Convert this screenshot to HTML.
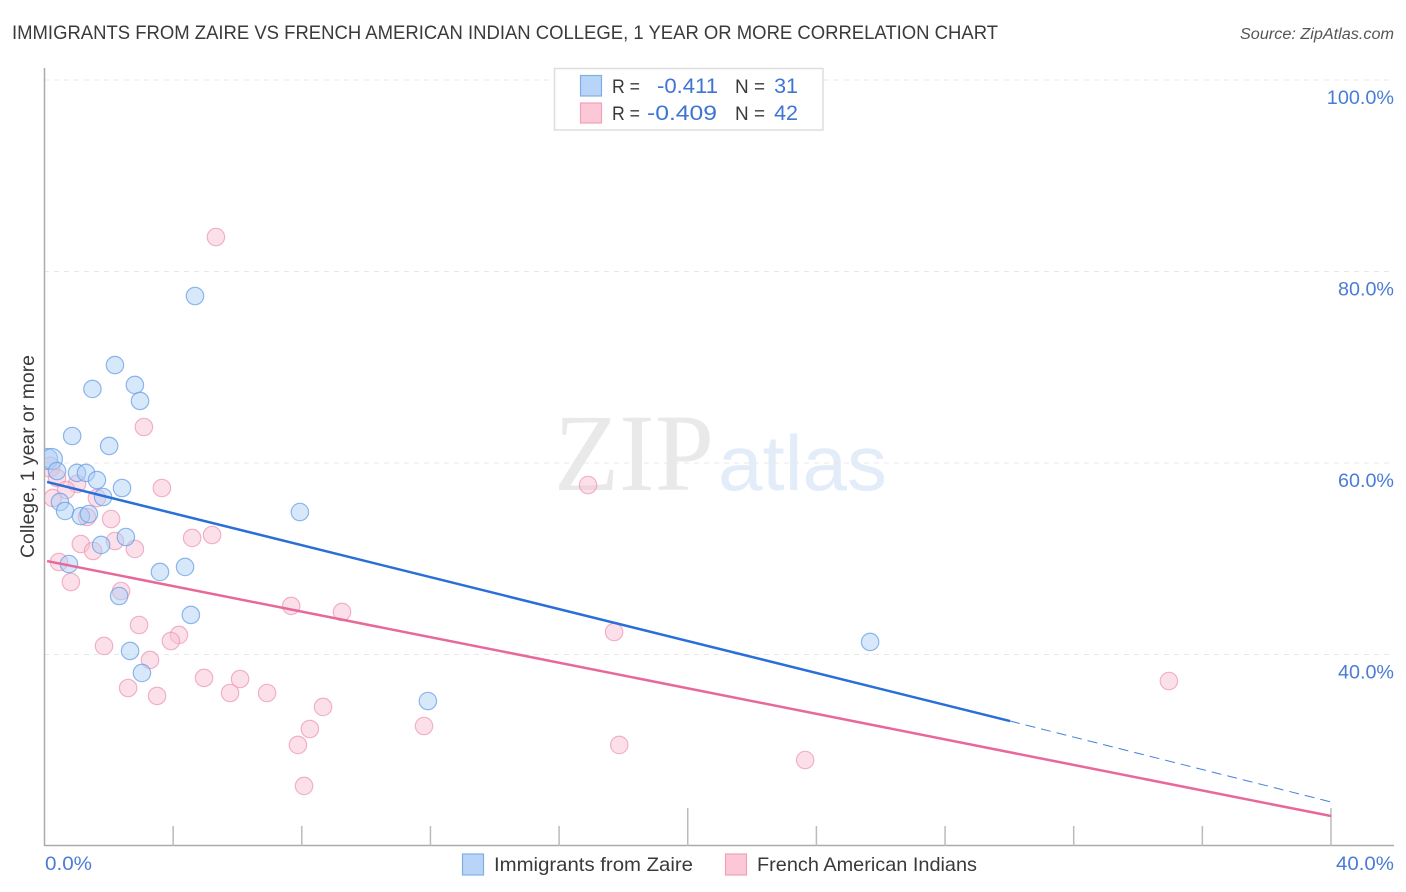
<!DOCTYPE html>
<html lang="en">
<head>
<meta charset="utf-8">
<title>Immigrants from Zaire vs French American Indian College Correlation Chart</title>
<style>
html,body{margin:0;padding:0;background:#fff;}
svg{display:block;}
text{font-family:"Liberation Sans",sans-serif;}
</style>
</head>
<body>
<svg id="chart" width="1406" height="892" viewBox="0 0 1406 892">
  <defs>
    <clipPath id="plot-clip"><rect x="45" y="60" width="1361" height="786"/></clipPath>
  </defs>
  <rect x="0" y="0" width="1406" height="892" fill="#ffffff"/>
  <text x="12" y="39" font-size="19.5" fill="#3a3a3a" textLength="986" lengthAdjust="spacingAndGlyphs">IMMIGRANTS FROM ZAIRE VS FRENCH AMERICAN INDIAN COLLEGE, 1 YEAR OR MORE CORRELATION CHART</text>
  <text x="1394" y="39" font-size="15.5" font-style="italic" fill="#555555" text-anchor="end" textLength="154" lengthAdjust="spacingAndGlyphs">Source: ZipAtlas.com</text>
  <g id="watermark">
    <text x="554" y="490" font-size="110" fill="#e9e9e9" textLength="160" lengthAdjust="spacingAndGlyphs" style="font-family:'Liberation Serif',serif">ZIP</text>
    <text x="718" y="490" font-size="78" fill="#e3ecf9" textLength="169" lengthAdjust="spacingAndGlyphs">atlas</text>
  </g>
  <g id="grid"></g>
  <g id="axes"></g>
  <g id="pink-points" clip-path="url(#plot-clip)"></g>
  <g id="blue-points" clip-path="url(#plot-clip)"></g>
  <g id="trends"></g>
  <text x="34" y="456.500" font-size="19" fill="#3a3a3a" text-anchor="middle" transform="rotate(-90 34 456.500)" textLength="203" lengthAdjust="spacingAndGlyphs">College, 1 year or more</text>

  <g>
    <rect x="554.500" y="68.500" width="268.500" height="61.500" fill="#ffffff" stroke="#dddddd" stroke-width="1.500"/>
    <rect x="580.500" y="75.500" width="21" height="20.500" fill="#b8d4f8" stroke="#82aee8" stroke-width="1.200"/>
    <rect x="580.500" y="103" width="21" height="20" fill="#fcc8d8" stroke="#f0a0b8" stroke-width="1.200"/>
    <text x="612" y="93" font-size="19.500" fill="#3a3a3a" textLength="28" lengthAdjust="spacingAndGlyphs">R =</text>
    <text x="657" y="93" font-size="21.500" fill="#3e74d4" textLength="61" lengthAdjust="spacingAndGlyphs">-0.411</text>
    <text x="735" y="93" font-size="19.500" fill="#3a3a3a" textLength="30" lengthAdjust="spacingAndGlyphs">N =</text>
    <text x="798" y="93" font-size="21.500" fill="#3e74d4" text-anchor="end">31</text>
    <text x="612" y="120" font-size="19.500" fill="#3a3a3a" textLength="28" lengthAdjust="spacingAndGlyphs">R =</text>
    <text x="647" y="120" font-size="21.500" fill="#3e74d4" textLength="70" lengthAdjust="spacingAndGlyphs">-0.409</text>
    <text x="735" y="120" font-size="19.500" fill="#3a3a3a" textLength="30" lengthAdjust="spacingAndGlyphs">N =</text>
    <text x="798" y="120" font-size="21.500" fill="#3e74d4" text-anchor="end">42</text>
  </g>

  <g>
    <rect x="462.500" y="854" width="21" height="21" fill="#b8d4f8" stroke="#82aee8" stroke-width="1.200"/>
    <text x="494" y="871" font-size="19.500" fill="#3a3a3a" textLength="199" lengthAdjust="spacingAndGlyphs">Immigrants from Zaire</text>
    <rect x="725.500" y="854" width="21" height="21" fill="#fcc8d8" stroke="#f0a0b8" stroke-width="1.200"/>
    <text x="757" y="871" font-size="19.500" fill="#3a3a3a" textLength="220" lengthAdjust="spacingAndGlyphs">French American Indians</text>
  </g>
</svg>
<script>
var yTickValues = [100, 80, 60, 40];
var yTickLabels = ["100.0%", "80.0%", "60.0%", "40.0%"];
var xTickValues = [0, 4, 8, 12, 16, 20, 24, 28, 32, 36, 40];
var xMajorTicks = [20, 40];
var xEndLabels = ["0.0%", "40.0%"];

var zaireX = [4.68, 2.19, 2.81, 1.49, 2.97, 0.86, 2.01, 0.08, 0.23, 0.39, 1.01, 1.29, 1.63, 2.41, 1.82, 0.48, 0.64, 1.13, 1.38, 7.94, 2.53, 1.76, 0.76, 4.37, 3.59, 2.32, 4.55, 2.66, 3.03, 25.67, 11.92];
var zaireY = [77.44, 70.23, 68.15, 67.73, 66.48, 62.82, 61.78, 60.42, 60.42, 59.16, 58.96, 58.96, 58.22, 57.39, 56.45, 55.93, 54.99, 54.46, 54.67, 54.88, 52.27, 51.44, 49.45, 49.14, 48.62, 46.11, 44.13, 40.37, 38.07, 41.31, 35.14];

var frenchX = [5.33, 3.09, 3.65, 16.9, 0.17, 0.39, 1.01, 0.67, 0.26, 1.63, 1.32, 2.07, 2.19, 1.13, 1.51, 2.81, 4.59, 5.21, 0.45, 0.82, 2.38, 7.67, 9.25, 2.94, 17.71, 4.18, 3.93, 1.85, 3.28, 34.96, 4.96, 6.08, 2.6, 3.5, 5.77, 6.92, 8.66, 8.25, 11.8, 7.88, 17.87, 23.65, 8.07];
var frenchY = [83.6, 63.76, 57.39, 57.7, 59.58, 58.43, 57.81, 57.18, 56.34, 56.34, 54.36, 54.15, 51.85, 51.54, 50.81, 51.02, 52.17, 52.48, 49.66, 47.57, 46.63, 45.07, 44.44, 43.08, 42.35, 42.04, 41.41, 40.89, 39.43, 37.23, 37.55, 37.44, 36.5, 35.67, 35.98, 35.98, 34.52, 32.22, 32.53, 30.55, 30.55, 28.98, 26.27];

var zaireTrendX = [0.08, 30.02];
var zaireTrendY = [58.02, 33.05];
var zaireDashX = [30.02, 40];
var zaireDashY = [33.05, 24.6];
var frenchTrendX = [0.08, 40];
var frenchTrendY = [49.76, 23.13];

var NS = 'http://www.w3.org/2000/svg';
function xScale(v) { return 44.5 + v * 32.1625; }
function yScale(v) { return 80 + (100 - v) * 9.575; }
function make(tag, parent, attrs) {
  var el = document.createElementNS(NS, tag);
  for (var k in attrs) { el.setAttribute(k, attrs[k]); }
  parent.appendChild(el);
  return el;
}

var grid = document.getElementById('grid');
var axes = document.getElementById('axes');

yTickValues.forEach(function (v, i) {
  var line = make('line', grid, {x1: 44, x2: 1394, y1: yScale(v), y2: yScale(v), stroke: '#e8e8e8', 'stroke-width': 1.1, 'stroke-dasharray': '5 5'});
  
  
  var label = make('text', axes, {x: 1394, y: yScale(v) + 24, 'font-size': 19.5, fill: '#4a7cd6', 'text-anchor': 'end', textLength: yTickLabels[i].length * 11.2, lengthAdjust: 'spacingAndGlyphs'});
  label.textContent = yTickLabels[i];
  
  
});

var yAxis = make('line', axes, {x1: 44.5, x2: 44.5, y1: 68, y2: 846, stroke: '#aaaaaa', 'stroke-width': 1.5});


var xAxis = make('line', axes, {x1: 44, x2: 1394, y1: 845.5, y2: 845.5, stroke: '#aaaaaa', 'stroke-width': 1.5});



xTickValues.forEach(function (v) {
  if (v === 0) { return; }
  var major = xMajorTicks.indexOf(v) >= 0;
  var tick = make('line', axes, {x1: xScale(v), x2: xScale(v), y1: major ? 808 : 826, y2: 846, stroke: '#bbbbbb', 'stroke-width': 1.5});
  
  
});

var xLabelLeft = make('text', axes, {x: 45, y: 870, 'font-size': 19.5, fill: '#4a7cd6', textLength: 47, lengthAdjust: 'spacingAndGlyphs'});
xLabelLeft.textContent = xEndLabels[0];


var xLabelRight = make('text', axes, {x: 1394, y: 870, 'font-size': 19.5, fill: '#4a7cd6', 'text-anchor': 'end', textLength: 58, lengthAdjust: 'spacingAndGlyphs'});
xLabelRight.textContent = xEndLabels[1];



var pinkGroup = document.getElementById('pink-points');
frenchX.forEach(function (v, i) {
  var big = v < 0.2;
  var c = make('circle', pinkGroup, {cx: xScale(v), cy: yScale(frenchY[i]), r: big ? 10 : 8.7, fill: '#f9bfd2', 'fill-opacity': 0.48, stroke: '#ee9ab5', 'stroke-opacity': 0.75, 'stroke-width': 1.2});
  
  
});

var blueGroup = document.getElementById('blue-points');
zaireX.forEach(function (v, i) {
  var big = v < 0.3;
  var c = make('circle', blueGroup, {cx: xScale(v), cy: yScale(zaireY[i]), r: big ? 10.5 : 8.7, fill: '#aecef6', 'fill-opacity': 0.48, stroke: '#6a9fe6', 'stroke-opacity': 0.75, 'stroke-width': 1.2});
  
  
});

var trends = document.getElementById('trends');
var frenchLine = make('line', trends, {x1: xScale(frenchTrendX[0]), y1: yScale(frenchTrendY[0]), x2: xScale(frenchTrendX[1]), y2: yScale(frenchTrendY[1]), stroke: '#e8689a', 'stroke-width': 2.5});


var zaireLine = make('line', trends, {x1: xScale(zaireTrendX[0]), y1: yScale(zaireTrendY[0]), x2: xScale(zaireTrendX[1]), y2: yScale(zaireTrendY[1]), stroke: '#2a6fd8', 'stroke-width': 2.5});


var zaireDash = make('line', trends, {x1: xScale(zaireDashX[0]), y1: yScale(zaireDashY[0]), x2: xScale(zaireDashX[1]), y2: yScale(zaireDashY[1]), stroke: '#4a80d8', 'stroke-width': 1, 'stroke-dasharray': '10 6'});


</script>
</body>
</html>
